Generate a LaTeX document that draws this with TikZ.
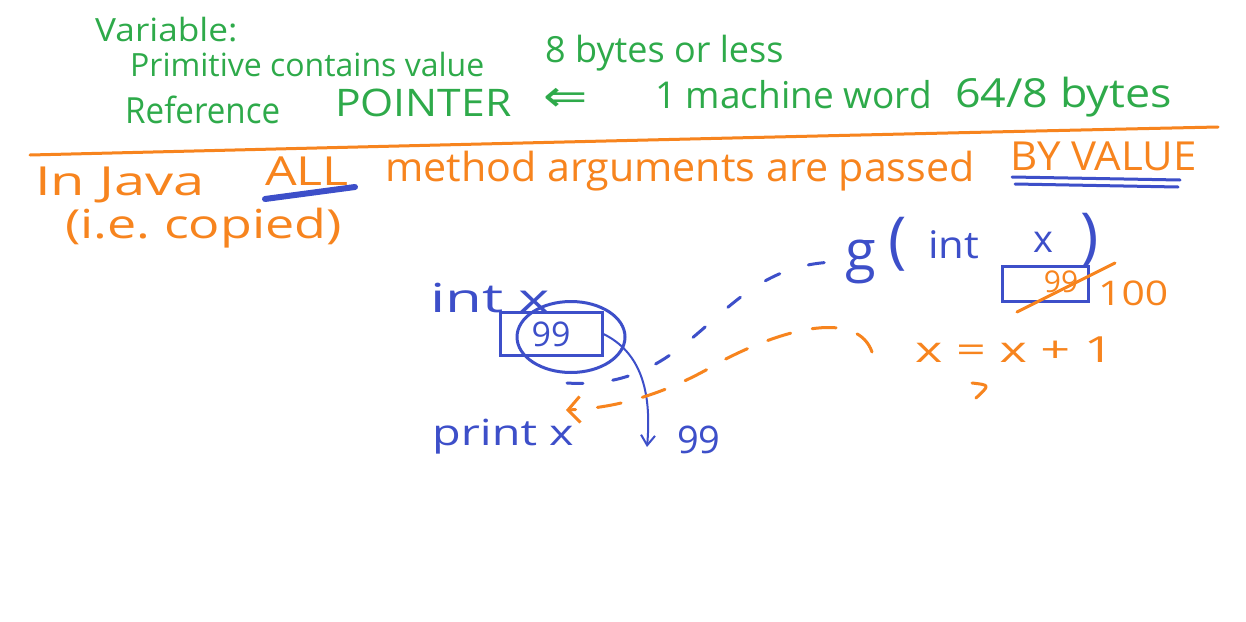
\documentclass[tikz,border=0pt]{standalone}
\usepackage{graphicx}
\usepackage{fontspec}
\setmainfont{Open Sans}
\newfontfamily\symf{DejaVu Sans}
\usetikzlibrary{arrows.meta,shapes.geometric}
\definecolor{hgreen}{HTML}{2EAA4A}
\definecolor{horange}{HTML}{F7841E}
\definecolor{hblue}{HTML}{3D4FC9}
\newcommand\sx[2]{\scalebox{#1}[1]{#2}}
\newcommand\fs[1]{\fontsize{#1}{#1}\selectfont}
\tikzset{
  gtxt/.style={text=hgreen, font=\fs{32}, inner sep=0pt, anchor=west},
  otxt/.style={text=horange, font=\fs{40}, inner sep=0pt, anchor=west},
  btxt/.style={text=hblue, font=\fs{36}, inner sep=0pt, anchor=west},
  pen/.style={line width=3pt, line cap=round, line join=round},
  bdash/.style={pen, dash pattern=on 16pt off 30pt},
  odash/.style={pen, dash pattern=on 24pt off 22pt},
}
\begin{document}
\begin{tikzpicture}[x=1pt,y=-1pt]
\useasboundingbox[fill=white] (0,0) rectangle (1246,621);
% green notes
\node[gtxt] (var) at (95,30) {\sx{1.1}{Variable:}};
\node[gtxt] (prim) at (130,64) {Primitive contains value};
\node[gtxt, font=\fs{36}] (bytes) at (545,53) {8 bytes or less};
\node[gtxt, font=\fs{36}] (ref) at (125,110) {\sx{0.92}{Reference}};
\node[gtxt, font=\fs{38}] (ptr) at (335,103) {\sx{1.12}{POINTER}};
\node[gtxt, font=\fs{44}] (arr) at (543,100) {\symf\sx{1.2}{⇐}};
\node[gtxt, font=\fs{37}] (mw) at (655,95) {1 machine word};
\node[gtxt, font=\fs{40}] (b48) at (955,97) {\sx{1.12}{64/8 bytes}};
% separator
\coordinate (sepL) at (30,155);
\coordinate (sepR) at (1218,127);
\draw[pen, horange] (sepL) .. controls (400,146) and (800,136) .. (sepR);
% orange statement
\node[otxt] (java) at (35,185) {\sx{1.4}{In Java}};
\node[otxt] (all) at (265,171) {\sx{1.25}{ALL}};
\node[otxt] (meth) at (385,171) {\sx{1.03}{method arguments are passed}};
\node[otxt] (byv) at (1010,156) {\sx{1.05}{BY VALUE}};
\node[otxt] (ie) at (65,228) {\sx{1.3}{(i.e.\ copied)}};
\coordinate (allU1) at (265,199);
\coordinate (allU2) at (355,187);
\draw[line width=6pt, hblue, line cap=round] (allU1) -- (allU2);
\coordinate (byU1) at (1012,177);
\coordinate (byU2) at (1180,180);
\coordinate (byU3) at (1015,184);
\coordinate (byU4) at (1178,187);
\draw[pen, hblue] (byU1) -- (byU2);
\draw[pen, hblue] (byU3) -- (byU4);
% caller
\node[btxt, font=\fs{40}] (intx) at (430,298) {\sx{1.5}{int x}};
\node[draw=hblue, line width=3pt, minimum width=102pt, minimum height=43pt, text=hblue, font=\fs{34}] (box1) at (551,334) {99};
\node[draw=hblue, line width=3pt, ellipse, minimum width=108pt, minimum height=71pt, inner sep=0pt] (circ) at (571,337) {};
\node[btxt] (print) at (432,437) {\sx{1.3}{print x}};
\node[btxt, font=\fs{38}] (out) at (677,440) {99};
\draw[line width=2pt, hblue, line cap=round, -{Straight Barb[length=10pt,width=14pt]}] (box1.east) .. controls (640,352) and (652,390) .. (647,447);
% callee
\node[btxt, font=\fs{56}] (g) at (845,262) {g};
\node[btxt, font=\fs{62}] (lp) at (888,244) {(};
\node[btxt, font=\fs{38}] (gint) at (928,245) {\sx{1.1}{int}};
\node[btxt, font=\fs{38}] (gx) at (1033,242) {x};
\node[btxt, font=\fs{62}] (rp) at (1080,240) {)};
\node[draw=hblue, line width=3pt, minimum width=86pt, minimum height=35pt] (box2) at (1045,284) {};
\node[text=horange, font=\fs{30}, inner sep=0pt] (old) at (1061,282) {99};
\coordinate (st1) at (1017,312);
\coordinate (st2) at (1115,263);
\draw[pen, horange] (st1) -- (st2);
\node[otxt, font=\fs{34}] (new) at (1098,293) {\sx{1.2}{100}};
\node[otxt, font=\fs{36}] (inc) at (915,350) {\sx{1.45}{x = x + 1}};
\coordinate (m1) at (972,383);
\coordinate (m2) at (976,398);
\draw[pen, horange] (m1) .. controls (990,385) .. (m2);
% flows
\coordinate (bstart) at (567,383);
\draw[bdash, hblue] (bstart) .. controls (700,392) and (715,262) .. ([xshift=-6pt]g.west);
\coordinate (ret) at (872,352);
\coordinate (retmid) at (720,362);
\draw[odash, horange, -{Straight Barb[length=12pt,width=26pt]}] (ret) .. controls (858,312) and (790,325) .. (retmid) .. controls (670,392) and (620,408) .. (566,410);
\end{tikzpicture}
\end{document}
